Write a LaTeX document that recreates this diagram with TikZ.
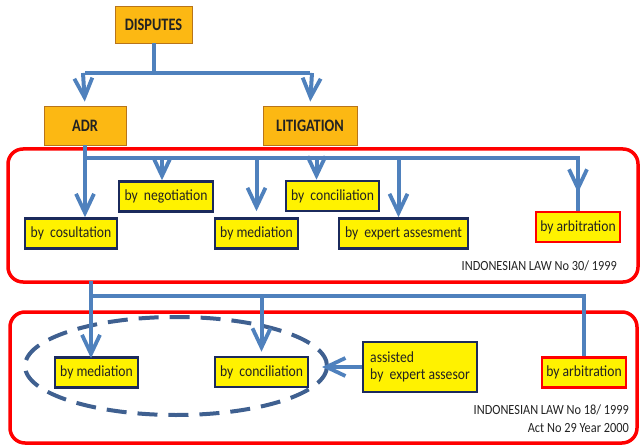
\documentclass[tikz,border=0pt]{standalone}
\usepackage{fontspec}
\setmainfont{Carlito}
\newfontfamily\boxfont[FakeStretch=0.88]{Carlito}
\newfontfamily\headfont[FakeStretch=0.82]{Carlito}
\usetikzlibrary{arrows.meta}
\definecolor{conn}{HTML}{4F81BD}
\definecolor{orangefill}{HTML}{FCB813}
\definecolor{orangeline}{HTML}{B8741A}
\definecolor{navy}{HTML}{1B2A5C}
\definecolor{ellcol}{HTML}{3F6090}
\definecolor{txt}{HTML}{222222}
\tikzset{
  topbox/.style={draw=orangeline, line width=0.8pt, fill=orangefill, inner sep=0pt,
    text=txt, font=\headfont\fontsize{17.5}{19}\selectfont\bfseries},
  ybox/.style={draw=navy, line width=2.5pt, fill=yellow, inner sep=0pt, text=txt,
    minimum height=30pt, font=\boxfont\fontsize{15.5}{17}\selectfont},
  rbox/.style={ybox, draw=red},
  lawframe/.style={draw=red, line width=3.5pt, rounded corners=15pt},
  conline/.style={draw=conn, line width=4pt},
  arr/.style={conline, -{Straight Barb[length=19pt, width=18pt, line width=3.8pt]}},
  lawtext/.style={font=\boxfont\fontsize{14}{16}\selectfont, inner sep=0pt, anchor=east, text=txt}
}
\begin{document}
\begin{tikzpicture}[x=1pt, y=-1pt]
\useasboundingbox (0,0) rectangle (642,446);
% frames
\draw[lawframe] (8,149) rectangle (638,282);
\draw[lawframe] (10,312) rectangle (637,443);
% dashed ellipse
\draw[draw=ellcol, line width=4pt, dash pattern=on 20pt off 11pt] (176,366) ellipse [x radius=151, y radius=49];
% nodes
\node[topbox, minimum width=77pt, minimum height=37pt] (disp) at (153.5,24.5) {DISPUTES};
\node[topbox, minimum width=82pt, minimum height=39pt] (adr) at (85,125.5) {ADR};
\node[topbox, minimum width=94pt, minimum height=39pt] (lit) at (310,125.5) {LITIGATION};

\node[ybox, minimum width=92pt] (cos) at (71,233.5) {by\ \ cosultation};
\node[ybox, minimum width=94pt] (neg) at (166,196.5) {by\ \ negotiation};
\node[ybox, minimum width=83pt] (med) at (256.5,233.5) {by mediation};
\node[ybox, minimum width=93pt] (conc) at (332.5,196) {by\ \ conciliation};
\node[ybox, minimum width=129pt] (exp) at (403.5,233.5) {by\ \ expert assesment};
\node[rbox, minimum width=84pt] (arb) at (578,227) {by arbitration};

\node[ybox, minimum width=83pt] (med2) at (96.5,372.5) {by mediation};
\node[ybox, minimum width=93pt] (conc2) at (261.5,372) {by\ \ conciliation};
\node[ybox, minimum width=114pt, minimum height=50pt, align=left] (assist) at (420,367) {assisted\\by\ \ expert assesor};
\node[rbox, minimum width=84pt] (arb2) at (584,372.5) {by arbitration};

\node[lawtext] (law1) at (617,266) {INDONESIAN LAW No 30/ 1999};
\node[lawtext] (law2) at (629,410) {INDONESIAN LAW No 18/ 1999};
\node[lawtext] (law3) at (629,428) {Act No 29 Year 2000};

% top connectors
\coordinate (b1) at (153.5,73);
\coordinate (b2) at (85,158);
\coordinate (b3) at (91,281);
\coordinate (b4) at (91,296);
\draw[conline] (disp.south) -- (b1);
\draw[conline] (adr.north |- b1) -- (lit.north |- b1);
\draw[arr, shorten >=4pt] ([xshift=-2pt]adr.north |- b1) -- (adr.north);
\draw[arr, shorten >=4pt] ([xshift=2pt]lit.north |- b1) -- (lit.north);
% second level
\draw[conline] (adr.south) -- (b2) -- (arb.north |- b2) -- (arb.north);
\draw[arr] ([xshift=-4pt]neg.north |- b2) -- ([xshift=-4pt]neg.north);
\draw[arr] (b2) -- (adr.south |- cos.north);
\draw[arr] (med.north |- b2) -- ([yshift=6pt]med.north);
\draw[arr] ([xshift=-16pt]conc.north |- b2) -- ([xshift=-16pt]conc.north);
\draw[arr] ([xshift=-5pt]exp.north |- b2) -- ([xshift=-5pt]exp.north);
\draw[arr, shorten >=12pt] (arb.north |- b2) -- ([yshift=6pt]arb.north);
% third level
\draw[conline] (b3) -- (b4) -- (arb2.north |- b4) -- (arb2.north);
\draw[arr, shorten >=-2pt] (b4) -- (b4 |- med2.north);
\draw[arr, shorten >=4pt] (conc2.north |- b4) -- (conc2.north);
\coordinate (elltip) at (322,367);
\draw[arr] (assist.west) -- (elltip);
\end{tikzpicture}
\end{document}
